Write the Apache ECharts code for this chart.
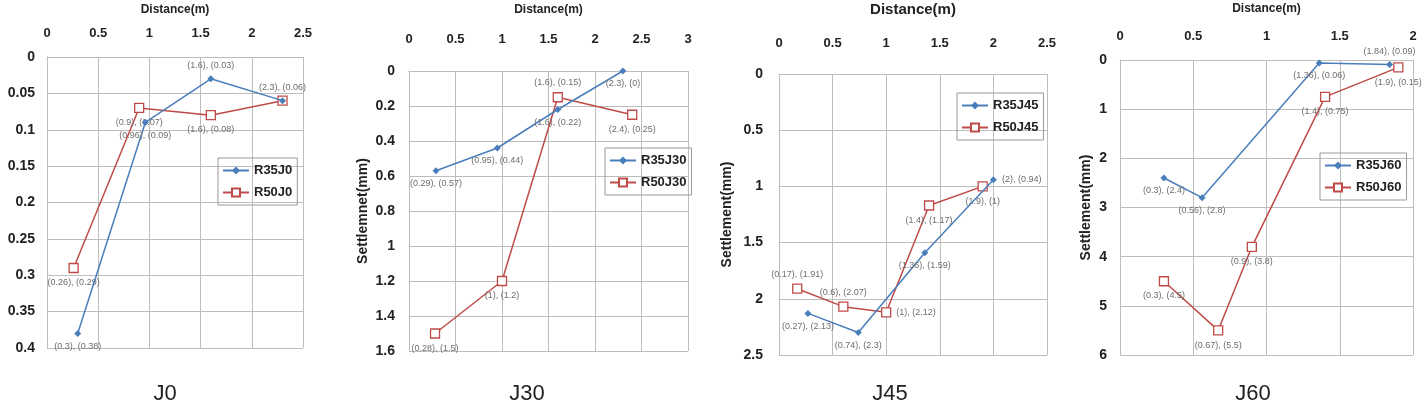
<!DOCTYPE html>
<html>
<head>
<meta charset="utf-8">
<script src="https://cdn.jsdelivr.net/npm/echarts@6/dist/echarts.min.js"></script>
<style>
  html, body { margin: 0; padding: 0; background: #fff; }
  #main { width: 1423px; height: 403px; }
</style>
</head>
<body>
<div id="main"></div>
<script>
// 数据: 距离(m) / 沉降(mm)
var j0DistR35 = [0.3, 0.96, 1.6, 2.3];
var j0SetR35 = [0.38, 0.09, 0.03, 0.06];
var j0DistR50 = [0.26, 0.9, 1.6, 2.3];
var j0SetR50 = [0.29, 0.07, 0.08, 0.06];

var j30DistR35 = [0.29, 0.95, 1.6, 2.3];
var j30SetR35 = [0.57, 0.44, 0.22, 0];
var j30DistR50 = [0.28, 1, 1.6, 2.4];
var j30SetR50 = [1.5, 1.2, 0.15, 0.25];

var j45DistR35 = [0.27, 0.74, 1.36, 2];
var j45SetR35 = [2.13, 2.3, 1.59, 0.94];
var j45DistR50 = [0.17, 0.6, 1, 1.4, 1.9];
var j45SetR50 = [1.91, 2.07, 2.12, 1.17, 1];

var j60DistR35 = [0.3, 0.56, 1.36, 1.84];
var j60SetR35 = [2.4, 2.8, 0.06, 0.09];
var j60DistR50 = [0.3, 0.67, 0.9, 1.4, 1.9];
var j60SetR50 = [4.5, 5.5, 3.8, 0.75, 0.15];

var panelNames = ['J0', 'J30', 'J45', 'J60'];
var seriesNames = [['R35J0', 'R50J0'], ['R35J30', 'R50J30'], ['R35J45', 'R50J45'], ['R35J60', 'R50J60']];
var yMax = [0.4, 1.6, 2.5, 6];
var yStep = [0.05, 0.2, 0.5, 1];
var xMax = [2.5, 3, 2.5, 2];

// 标签位置 (样式)
var lblPos = [
  [['bottom', 'bottom', 'top', 'top'], ['bottom', 'bottom', 'bottom', null]],
  [['bottom', 'bottom', 'bottom', 'bottom'], ['bottom', 'bottom', 'top', 'bottom']],
  [['bottom', 'bottom', 'bottom', 'right'], ['top', 'top', 'right', 'bottom', 'bottom']],
  [['bottom', 'bottom', 'bottom', 'top'], ['bottom', 'bottom', 'bottom', 'bottom', 'bottom']]
];

var BLUE = '#4a7ebb';
var RED = '#be4b48';
var GRIDC = '#bdbdbd';

var grids = [
  { left: 47, top: 57, width: 256, height: 291 },
  { left: 409, top: 71, width: 279, height: 280 },
  { left: 779, top: 74, width: 268, height: 281 },
  { left: 1120, top: 60, width: 293, height: 295 }
];
var xLabelMargin = [17, 25, 24, 17];
var xNameGap = [41, 55, 57, 45];
var xNameSize = [12, 12, 15, 12];
var yLabelMargin = [12, 14, 16, 13];
var yNames = ['', 'Settlemnet(mm)', 'Settlement(mm)', 'Settlement(mm)'];
var yNameGap = [0, 39, 45, 27];
var legendBox = [
  { left: 218, top: 158 },
  { left: 605, top: 148 },
  { left: 957, top: 93 },
  { left: 1320, top: 153 }
];
var titleX = [160, 522, 885, 1248];

function pairs(xs, ys, pos) {
  return xs.map(function (x, i) {
    var item = { value: [x, ys[i]] };
    if (pos[i]) {
      item.label = { show: true, position: pos[i] };
    } else {
      item.label = { show: false };
    }
    return item;
  });
}

var allData = [
  [[j0DistR35, j0SetR35], [j0DistR50, j0SetR50]],
  [[j30DistR35, j30SetR35], [j30DistR50, j30SetR50]],
  [[j45DistR35, j45SetR35], [j45DistR50, j45SetR50]],
  [[j60DistR35, j60SetR35], [j60DistR50, j60SetR50]]
];

var xAxes = [], yAxes = [], series = [], legends = [], titles = [];
var axisFont = 'Liberation Sans';

for (var p = 0; p < 4; p++) {
  grids[p].outerBoundsMode = 'none';
  grids[p].containLabel = false;
  xAxes.push({
    gridIndex: p, type: 'value', position: 'top', min: 0, max: xMax[p], interval: 0.5,
    name: 'Distance(m)', nameLocation: 'middle', nameGap: xNameGap[p],
    nameTextStyle: { fontFamily: axisFont, fontWeight: 'bold', fontSize: xNameSize[p], color: '#222' },
    axisLine: { show: true, lineStyle: { color: GRIDC } },
    axisTick: { show: false },
    axisLabel: { margin: xLabelMargin[p], fontFamily: axisFont, fontWeight: 'bold', fontSize: 13, color: '#222' },
    splitLine: { show: true, lineStyle: { color: GRIDC, width: 1 } }
  });
  yAxes.push({
    gridIndex: p, type: 'value', inverse: true, min: 0, max: yMax[p], interval: yStep[p],
    name: yNames[p], nameLocation: 'middle', nameGap: yNameGap[p], nameRotate: 90,
    nameTextStyle: { fontFamily: axisFont, fontWeight: 'bold', fontSize: 14, color: '#222' },
    axisLine: { show: true, lineStyle: { color: GRIDC } },
    axisTick: { show: false },
    axisLabel: { margin: yLabelMargin[p], fontFamily: axisFont, fontWeight: 'bold', fontSize: 14, color: '#222' },
    splitLine: { show: true, lineStyle: { color: GRIDC, width: 1 } }
  });
  var d = allData[p];
  var lbl = {
    fontSize: 9, color: '#6e6e6e', fontFamily: 'Liberation Sans', distance: 5,
    formatter: function (prm) { return '(' + prm.value[0] + '), (' + prm.value[1] + ')'; }
  };
  series.push({
    name: seriesNames[p][0], type: 'line', xAxisIndex: p, yAxisIndex: p,
    data: pairs(d[0][0], d[0][1], lblPos[p][0]),
    symbol: 'diamond', symbolSize: 7,
    itemStyle: { color: BLUE },
    lineStyle: { color: BLUE, width: 1.5 },
    label: lbl, z: 3
  });
  series.push({
    name: seriesNames[p][1], type: 'line', xAxisIndex: p, yAxisIndex: p,
    data: pairs(d[1][0], d[1][1], lblPos[p][1]),
    symbol: 'rect', symbolSize: 9,
    itemStyle: { color: '#fff', borderColor: RED, borderWidth: 1.3 },
    lineStyle: { color: RED, width: 1.5 },
    label: lbl, z: 2
  });
  legends.push({
    data: seriesNames[p], orient: 'vertical', left: legendBox[p].left, top: legendBox[p].top,
    borderColor: '#999', borderWidth: 1, padding: [6, 5, 6, 4], itemGap: 9,
    itemWidth: 26, itemHeight: 10,
    textStyle: { fontFamily: axisFont, fontWeight: 'bold', fontSize: 13, color: '#222' }
  });
  titles.push({
    text: panelNames[p], left: titleX[p], top: 378, textAlign: 'center',
    textStyle: { fontFamily: 'Liberation Sans', fontWeight: 'normal', fontSize: 22, color: '#222' }
  });
}

var chart = echarts.init(document.getElementById('main'));
chart.setOption({
  animation: false,
  title: titles,
  grid: grids,
  xAxis: xAxes,
  yAxis: yAxes,
  legend: legends,
  series: series
});
</script>
</body>
</html>
